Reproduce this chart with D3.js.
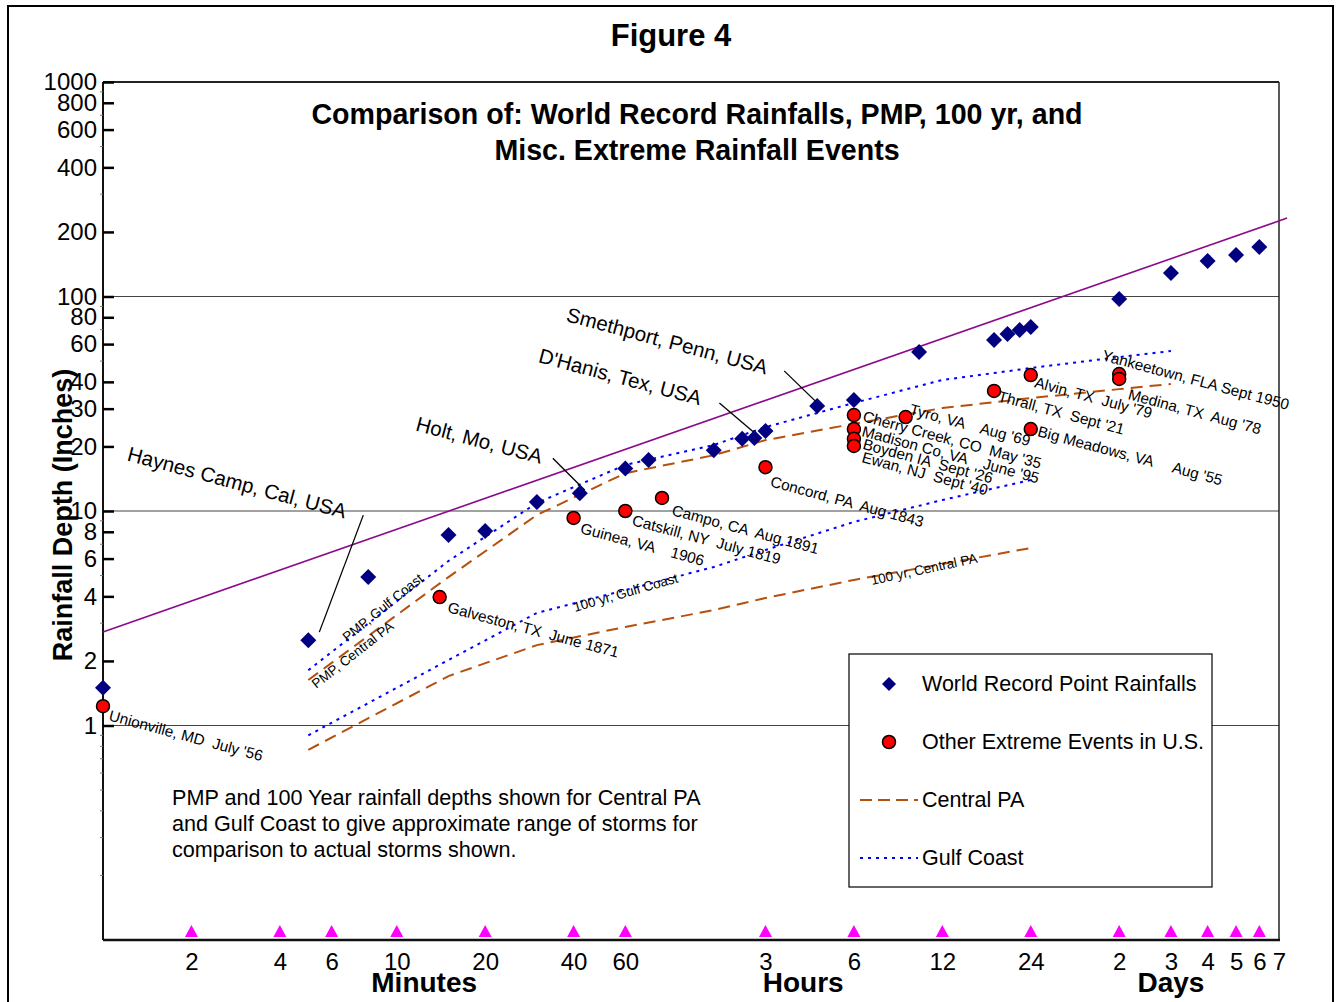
<!DOCTYPE html>
<html><head><meta charset="utf-8">
<script src="https://cdn.jsdelivr.net/npm/d3@7"></script>
<style>
html,body{margin:0;padding:0;background:#fff;}
svg{display:block;font-family:"Liberation Sans",Arial,sans-serif;}
.pre{white-space:pre;}
</style></head><body>
<svg id="chart" width="1341" height="1002"></svg>
<script>
// ================= DATA =================
// x ticks (duration in minutes) and their printed labels
const xTickMinutes = [2,4,6,10,20,40,60,180,360,720,1440,2880,4320,5760,7200,8640,10080];
const xTickLabels  = ["2","4","6","10","20","40","60","3","6","12","24","2","3","4","5","6","7"];
const markerMinutes = [2,4,6,10,20,40,60,180,360,720,1440,2880,4320,5760,7200,8640];
const unitLabels = ["Minutes","Hours","Days"];
const unitMinutes = [12.4,242,4320];

// y ticks (inches)
const yTickValues = [1,2,4,6,8,10,20,30,40,60,80,100,200,400,600,800,1000];
const yMinorValues = [0.2,0.3,0.4,0.5,0.6,0.7,0.8,0.9,3,5,7,9,50,70,90,300,500,700,900];
const yGridValues = [1,10,100];

// World record point rainfalls
const wrMinutes = [1,5,8,15,20,30,42,60,72,120,150,165,180,270,360,600,1080,1200,1320,1440,2880,4320,5760,7200,8640];
const wrDepth   = [1.50,2.50,4.92,7.73,8.07,11.0,12.1,15.8,17.3,19.2,21.7,21.9,23.6,30.9,32.9,55.1,62.7,66.8,69.8,72.1,97.3,128.8,146.5,156,170];

// Named world-record sites (index into wr arrays)
const siteNames = ["Haynes Camp, Cal, USA","Holt, Mo, USA","D'Hanis, Tex, USA","Smethport, Penn, USA"];
const siteIndex = [1,6,11,13];

// Other extreme events in U.S.
const eventNames = ["Unionville, MD  July '56","Galveston, TX  June 1871","Guinea, VA    1906","Catskill, NY  July 1819",
  "Campo, CA  Aug 1891","Concord, PA  Aug 1843","Cherry Creek, CO  May '35","Madison Co, VA    June '95",
  "Boyden IA  Sept '26","Ewan, NJ  Sept '40","Tyro, VA    Aug '69","Thrall, TX  Sept '21","Alvin, TX  July '79",
  "Big Meadows, VA     Aug '55","Yankeetown, FLA Sept 1950","Medina, TX  Aug '78"];
const eventMinutes = [1,14,40,60,80,180,360,360,360,360,540,1080,1440,1440,2880,2880];
const eventDepth   = [1.23,3.97,9.28,10.0,11.5,16.0,28.0,24.1,21.7,20.1,27.4,36.3,43.0,24.1,43.5,41.3];

// PMP curves
const pmpMinutes = [5,15,30,60,120,180,360,720,1440,2880,4320];
const pmpGulf    = [1.81,5.85,10.9,16.4,20.3,24.6,31.9,40.8,46.4,52.2,55.7];
const pmpCentral = [1.63,4.92,9.58,15.0,18.2,21.4,25.5,30.2,33.6,37.0,39.1];

// 100-year curves
const hundredMinutes = [5,15,30,60,120,180,360,720,1440];
const hundredGulf    = [0.90,2.02,3.35,4.28,5.48,6.58,8.89,11.25,13.95];
const hundredCentral = [0.77,1.70,2.37,2.88,3.45,3.93,4.77,5.66,6.72];

// World record envelope line
const envelopeMinutes = [1,10740];
const envelopeDepth   = [2.73,232];

// Curve labels
const curveLabelText = ["PMP, Gulf Coast","PMP, Central PA","100 yr, Gulf Coast","100 yr, Central PA"];

const legendLabels = ["World Record Point Rainfalls","Other Extreme Events in U.S.","Central PA","Gulf Coast"];
const noteLines = ["PMP and 100 Year rainfall depths shown for Central PA",
  "and Gulf Coast to give approximate range of storms for",
  "comparison to actual storms shown."];

// ================= LAYOUT =================
const eventLabelOffsets = [[5,14],[7,15],[6,15],[6,14],[9,17],[4,19],[8,6],[7,7],[8,10],[7,16],[3,-3],[3,10],[3,12],[6,7],[-18,-14],[8,20]];
const siteLabelOffsets = [[-182,-180],[-165,-63],[-217,-76],[-252,-85]];
const siteLeaders = [[[55,-125],[11,-8]],[[-27,-35],[5,-3]],[[-35,-35],[5,-1]],[[-33,-35],[0,-3]]];

const C = {purple:"#8B0A8B", blue:"#0000FF", brown:"#B5500F", navy:"#000080", red:"#FF0000", magenta:"#FF00FF"};

const svg = d3.select("#chart");
const L=103, R=1279, T=82, B=940;
const x = d3.scaleLog().domain([1,10080]).range([L,R]);
const y = d3.scaleLog().domain([0.1,1000]).range([B,T]);

// outer border
svg.append("rect").attr("x",8).attr("y",6).attr("width",1325).attr("height",1010)
  .attr("fill","none").attr("stroke","#000").attr("stroke-width",2);

// titles
svg.append("text").attr("x",671).attr("y",46).attr("text-anchor","middle")
  .attr("font-size",31).attr("font-weight","bold").text("Figure 4");
svg.append("text").attr("x",697).attr("y",124).attr("text-anchor","middle")
  .attr("font-size",28.6).attr("font-weight","bold").text("Comparison of: World Record Rainfalls, PMP, 100 yr, and");
svg.append("text").attr("x",697).attr("y",160).attr("text-anchor","middle")
  .attr("font-size",28.6).attr("font-weight","bold").text("Misc. Extreme Rainfall Events");

// gridlines
svg.append("g").selectAll("line").data(yGridValues).join("line")
  .attr("x1",L).attr("x2",R).attr("y1",d=>y(d)).attr("y2",d=>y(d))
  .attr("stroke","#444").attr("stroke-width",1.2);

// frame
svg.append("line").attr("x1",L).attr("x2",R).attr("y1",T).attr("y2",T).attr("stroke","#222").attr("stroke-width",2);
svg.append("line").attr("x1",R).attr("x2",R).attr("y1",T).attr("y2",B).attr("stroke","#222").attr("stroke-width",1.5);
svg.append("line").attr("x1",L).attr("x2",R+1).attr("y1",B).attr("y2",B).attr("stroke","#111").attr("stroke-width",2.5);
svg.append("line").attr("x1",L).attr("x2",L).attr("y1",T).attr("y2",B).attr("stroke","#111").attr("stroke-width",2);

// y axis
const yAxis = d3.axisLeft(y).tickValues(yTickValues).tickSize(-11).tickPadding(6).tickFormat(d3.format("d"));
const gy = svg.append("g").attr("transform",`translate(${L},0)`).call(yAxis);
gy.select(".domain").remove();
gy.selectAll(".tick line").attr("stroke","#000").attr("stroke-width",2.5);
gy.selectAll(".tick text").attr("font-size",24).attr("fill","#000").attr("font-family","Liberation Sans, Arial, sans-serif");
svg.append("g").selectAll("line").data(yMinorValues).join("line")
  .attr("x1",L-3).attr("x2",L).attr("y1",d=>y(d)).attr("y2",d=>y(d)).attr("stroke","#777").attr("stroke-width",1);

// x axis
const xAxis = d3.axisBottom(x).tickValues(xTickMinutes).tickSize(0).tickPadding(0)
  .tickFormat((d,i)=>xTickLabels[i]);
const gx = svg.append("g").attr("transform",`translate(0,${B})`).call(xAxis);
gx.select(".domain").remove();
gx.selectAll(".tick text").attr("font-size",24).attr("fill","#000").attr("dy",null).attr("y",30)
  .attr("font-family","Liberation Sans, Arial, sans-serif");

svg.append("g").selectAll("text").data(unitLabels).join("text")
  .attr("x",(d,i)=>x(unitMinutes[i])).attr("y",992).attr("text-anchor","middle")
  .attr("font-size",28).attr("font-weight","bold").text(d=>d);

// y label
svg.append("text").attr("transform","translate(72,515) rotate(-90)").attr("text-anchor","middle")
  .attr("font-size",27).attr("font-weight","bold").text("Rainfall Depth (Inches)");

// magenta triangles
svg.append("g").selectAll("path").data(markerMinutes).join("path")
  .attr("d","M0,-12L6.5,0L-6.5,0Z").attr("transform",d=>`translate(${x(d)},${B-3})`).attr("fill",C.magenta);

// curves
const line = d3.line().x(d=>x(d[0])).y(d=>y(d[1]));
function curve(mins, vals, color, dash){
  svg.append("path").datum(mins.map((m,i)=>[m,vals[i]])).attr("d",line)
    .attr("fill","none").attr("stroke",color).attr("stroke-width",2).attr("stroke-dasharray",dash);
}
curve(pmpMinutes,pmpGulf,C.blue,"3,5");
curve(pmpMinutes,pmpCentral,C.brown,"12,7");
curve(hundredMinutes,hundredGulf,C.blue,"3,5");
curve(hundredMinutes,hundredCentral,C.brown,"12,7");

// envelope
svg.append("path").datum(envelopeMinutes.map((m,i)=>[m,envelopeDepth[i]])).attr("d",line)
  .attr("fill","none").attr("stroke",C.purple).attr("stroke-width",1.6);

// curve labels
const curveAnchors = [[pmpMinutes[0],pmpGulf[0],39,-28,-39],[pmpMinutes[0],pmpCentral[0],8,9,-38],
  [hundredMinutes[2],hundredGulf[2],38,-1,-16],[hundredMinutes[6],hundredCentral[6],18,5,-12]];
svg.append("g").selectAll("text").data(curveLabelText).join("text")
  .attr("transform",(d,i)=>{const a=curveAnchors[i];return `translate(${x(a[0])+a[2]},${y(a[1])+a[3]}) rotate(${a[4]})`;})
  .attr("font-size",13.5).text(d=>d);

// leaders and site labels
siteIndex.forEach((idx,i)=>{
  const px=x(wrMinutes[idx]), py=y(wrDepth[idx]);
  const ld=siteLeaders[i];
  svg.append("line").attr("x1",px+ld[0][0]).attr("y1",py+ld[0][1]).attr("x2",px+ld[1][0]).attr("y2",py+ld[1][1])
    .attr("stroke","#000").attr("stroke-width",1.3);
  svg.append("text").attr("transform",`translate(${px+siteLabelOffsets[i][0]},${py+siteLabelOffsets[i][1]}) rotate(15)`)
    .attr("font-size",20.5).text(siteNames[i]);
});

// world record diamonds
const diamond = d3.symbol(d3.symbolSquare, 128)();
svg.append("g").selectAll("path").data(wrMinutes).join("path")
  .attr("d",diamond).attr("transform",(d,i)=>`translate(${x(d)},${y(wrDepth[i])}) rotate(45)`).attr("fill",C.navy);

// event circles
svg.append("g").selectAll("circle").data(eventMinutes).join("circle")
  .attr("cx",d=>x(d)).attr("cy",(d,i)=>y(eventDepth[i])).attr("r",6.5)
  .attr("fill",C.red).attr("stroke","#000").attr("stroke-width",1.5);

// event labels
svg.append("g").selectAll("text").data(eventNames).join("text")
  .attr("class","pre").attr("xml:space","preserve")
  .attr("transform",(d,i)=>`translate(${x(eventMinutes[i])+eventLabelOffsets[i][0]},${y(eventDepth[i])+eventLabelOffsets[i][1]}) rotate(15)`)
  .attr("font-size",15.3).text(d=>d);

// note
svg.append("g").selectAll("text").data(noteLines).join("text")
  .attr("x",172).attr("y",(d,i)=>805+i*26).attr("font-size",21.6).text(d=>d);

// legend
const lg = svg.append("g");
lg.append("rect").attr("x",849).attr("y",654).attr("width",363).attr("height",233)
  .attr("fill","#fff").attr("stroke","#000").attr("stroke-width",1.2);
const rowY = [684,742,800,858];
lg.append("path").attr("d",d3.symbol(d3.symbolSquare,98)()).attr("transform",`translate(889,${rowY[0]}) rotate(45)`).attr("fill",C.navy);
lg.append("circle").attr("cx",889).attr("cy",rowY[1]).attr("r",6.5).attr("fill",C.red).attr("stroke","#000").attr("stroke-width",1.5);
lg.append("line").attr("x1",860).attr("x2",918).attr("y1",rowY[2]).attr("y2",rowY[2]).attr("stroke",C.brown).attr("stroke-width",2).attr("stroke-dasharray","12,6");
lg.append("line").attr("x1",860).attr("x2",918).attr("y1",rowY[3]).attr("y2",rowY[3]).attr("stroke",C.blue).attr("stroke-width",2).attr("stroke-dasharray","3,5");
lg.selectAll("text.lt").data(legendLabels).join("text").attr("class","lt")
  .attr("x",922).attr("y",(d,i)=>rowY[i]+7).attr("font-size",21.5).text(d=>d);
</script>
</body></html>
